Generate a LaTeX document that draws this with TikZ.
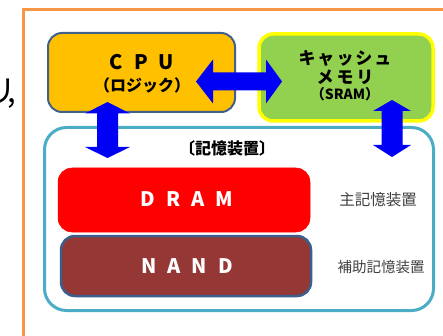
\documentclass[tikz,border=0pt]{standalone}
\usepackage{fontspec}
\setmainfont{Noto Sans CJK JP}
\definecolor{frameorange}{HTML}{F79646}
\definecolor{cpufill}{HTML}{FFC000}
\definecolor{cpuedge}{HTML}{41618C}
\definecolor{cachefill}{HTML}{92D050}
\definecolor{cacheedge}{HTML}{FFFF00}
\definecolor{memedge}{HTML}{4BACC6}
\definecolor{nandfill}{HTML}{953735}
\definecolor{nandedge}{HTML}{3B5E8C}
\definecolor{arrowblue}{HTML}{0000F5}
\definecolor{sidegray}{HTML}{404040}
\newcommand{\spc}{\kern11pt}
\begin{document}
\begin{tikzpicture}[x=1pt,y=-1pt,
  boxbase/.style={rectangle, rounded corners=14pt, inner sep=0pt},
  cpubox/.style={boxbase, fill=cpufill, draw=cpuedge, line width=2pt},
  cachebox/.style={boxbase, fill=cachefill, draw=cacheedge, line width=3.5pt},
  membox/.style={boxbase, rounded corners=22pt, fill=white, draw=memedge, line width=3pt},
  drambox/.style={boxbase, fill=red, draw=red, line width=0.5pt},
  nandbox/.style={boxbase, fill=nandfill, draw=nandedge, line width=2.5pt},
  biglabel/.style={font=\fontsize{20}{22}\selectfont\bfseries, inner sep=0pt},
  boxtext/.style={font=\fontsize{16}{18}\selectfont\bfseries, inner sep=0pt},
  sidetext/.style={font=\fontsize{15.5}{18}\selectfont, text=sidegray, inner sep=0pt},
  bluearrow/.style={fill=arrowblue, draw=none}
]
\useasboundingbox (0,0) rectangle (443,336);
\fill[white] (0,0) rectangle (443,336);
% orange frame
\draw[frameorange, line width=2.5pt] (23.5,400) -- (23.5,9.5) -- (480,9.5);
% partial text at left edge (cut off, as in the reference)
\node[font=\fontsize{31}{32}\selectfont, anchor=east, inner sep=0pt] (cut) at (16,94) {リ\kern-9pt,};
% boxes
\node[cpubox, minimum width=187pt, minimum height=79pt] (cpu) at (141.5,72.5) {};
\node[cachebox, minimum width=174pt, minimum height=87pt] (cache) at (346,77.5) {};
\node[membox, minimum width=389pt, minimum height=183pt] (mem) at (239,219) {};
\node[drambox, minimum width=252pt, minimum height=64pt] (dram) at (184,200) {};
\node[nandbox, minimum width=250pt, minimum height=60pt] (nand) at (186,266) {};
% texts
\node[biglabel] (cputxt) at (142,62) {C\spc P\spc U};
\node[boxtext] (logic) at (142,85) {（ロジック）};
\node[boxtext, font=\fontsize{17}{18}\selectfont\bfseries] (cache1) at (345,58) {キ\kern2pt ャ\kern2pt ッ\kern2pt シ\kern2pt ュ};
\node[boxtext, font=\fontsize{17}{18}\selectfont\bfseries] (cache2) at (345,77) {メ\kern3pt モ\kern3pt リ};
\node[boxtext, font=\fontsize{14}{16}\selectfont\bfseries] (cache3) at (345,94) {（SRAM）};
\node[boxtext] (memtxt) at (227,148) {〔記憶装置〕};
\node[biglabel, text=white] (dramtxt) at (187,199) {D\spc R\spc A\spc M};
\node[biglabel, text=white] (nandtxt) at (187,266) {N\spc A\spc N\spc D};
\node[sidetext] (main) at (378,200) {主記憶装置};
\node[sidetext, font=\fontsize{14.5}{16}\selectfont] (aux) at (381,267) {補助記憶装置};
% arrows
\fill[bluearrow] (196,81.5) -- (213,59.5) -- (213,72.5) -- (266,72.5) -- (266,59.5) -- (282,81.5)
  -- (266,103.5) -- (266,90.5) -- (213,90.5) -- (213,103.5) -- cycle;
\fill[bluearrow] (107.5,102) -- (130,113.5) -- (118,113.5) -- (118,147) -- (130,147) -- (107.5,158)
  -- (85,147) -- (97,147) -- (97,113.5) -- (85,113.5) -- cycle;
\fill[bluearrow] (392,100) -- (411,111) -- (402.5,111) -- (402.5,145) -- (411,145) -- (392,157)
  -- (373,145) -- (381.5,145) -- (381.5,111) -- (373,111) -- cycle;
\end{tikzpicture}
\end{document}
